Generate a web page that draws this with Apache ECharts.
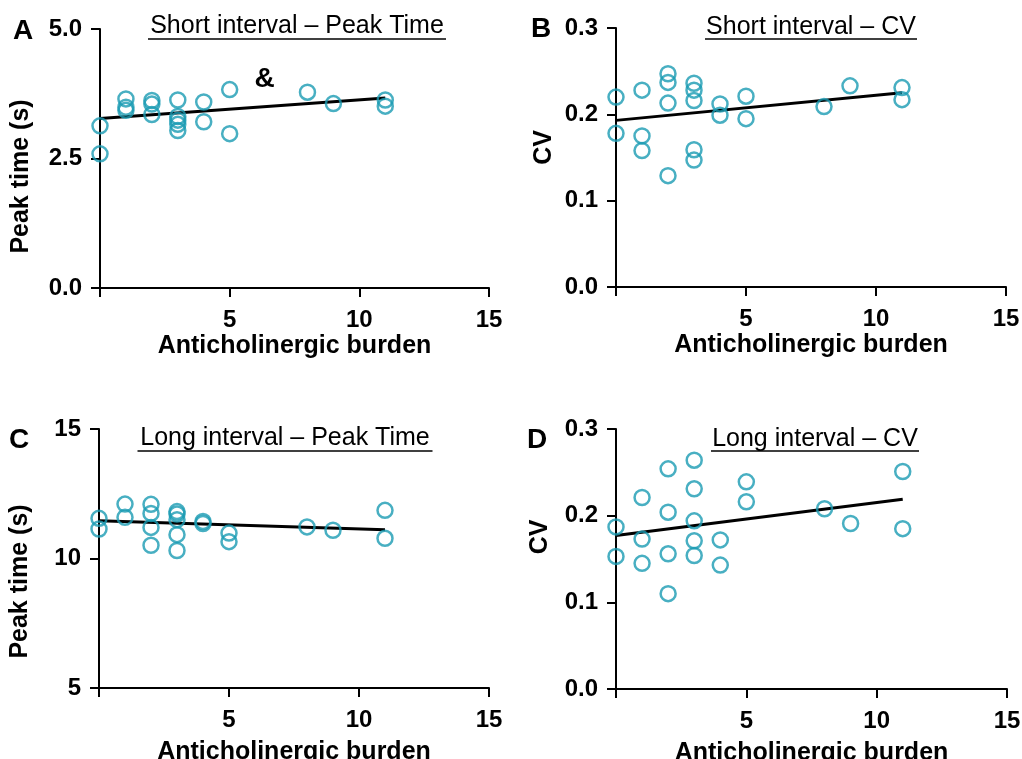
<!DOCTYPE html>
<html>
<head>
<meta charset="utf-8">
<script src="https://cdn.jsdelivr.net/npm/echarts@6/dist/echarts.min.js"></script>
<style>html,body{margin:0;padding:0;background:#fff}#c{width:1022px;height:759px}</style>
</head>
<body>
<div id="c"></div>
<script>
// ---- data (x = anticholinergic burden, y = measured value) ----
const shortPeak = [[0,3.13],[0,2.59],[1,3.65],[1,3.49],[1,3.43],[2,3.62],[2,3.55],[2,3.35],
  [3,3.63],[3,3.31],[3,3.24],[3,3.16],[3,3.04],[4,3.59],[4,3.21],[5,3.83],[5,2.98],[8,3.78],[9,3.56],[11,3.63],[11,3.51]];
const shortPeakFit = [[0,3.27],[11,3.67]];
const shortCV = [[0,0.220],[0,0.178],[1,0.228],[1,0.175],[1,0.158],[2,0.247],[2,0.237],[2,0.213],[2,0.129],
  [3,0.236],[3,0.228],[3,0.216],[3,0.159],[3,0.147],[4,0.212],[4,0.199],[5,0.221],[5,0.195],[8,0.209],[9,0.233],[11,0.231],[11,0.217]];
const shortCVFit = [[0,0.193],[11,0.225]];
const longPeak = [[0,11.55],[0,11.14],[1,12.10],[1,11.59],[2,12.09],[2,11.74],[2,11.20],[2,10.51],
  [3,11.81],[3,11.72],[3,11.50],[3,10.92],[3,10.31],[4,11.43],[4,11.35],[5,10.98],[5,10.65],[8,11.22],[9,11.09],[11,11.86],[11,10.78]];
const longPeakFit = [[0,11.46],[11,11.11]];
const longCV = [[0,0.187],[0,0.153],[1,0.221],[1,0.173],[1,0.145],[2,0.254],[2,0.204],[2,0.156],[2,0.110],
  [3,0.264],[3,0.231],[3,0.194],[3,0.171],[3,0.154],[4,0.172],[4,0.143],[5,0.239],[5,0.216],[8,0.208],[9,0.191],[11,0.251],[11,0.185]];
const longCVFit = [[0,0.177],[11,0.219]];
const annotationA = {coord:[6.35,4.03], text:'&'};

const xTicks = [0,5,10,15];
const yTicksA = [0,2.5,5];
const yTicksB = [0,0.1,0.2,0.3];
const yTicksC = [5,10,15];
const yTicksD = [0,0.1,0.2,0.3];

const titles = ['Short interval \u2013 Peak Time','Short interval \u2013 CV','Long interval \u2013 Peak Time','Long interval \u2013 CV'];
const letters = ['A','B','C','D'];
const xName = 'Anticholinergic burden';
const yNames = ['Peak time (s)','CV','Peak time (s)','CV'];

// ---- styles ----
const TEAL = '#1a9bb3';
const FONT = 'Liberation Sans, Arial, sans-serif';
const grids = [
  {left:100, top:29, width:389, height:259, outerBoundsMode:'none', containLabel:false},
  {left:616, top:28, width:390, height:259, outerBoundsMode:'none', containLabel:false},
  {left:99, top:429, width:390, height:259, outerBoundsMode:'none', containLabel:false},
  {left:616, top:429, width:391, height:260, outerBoundsMode:'none', containLabel:false}
];
const yTickSets = [yTicksA, yTicksB, yTicksC, yTicksD];
const yDecimals = [1,1,0,1];
const yNamePad = [[0,36,0,0],[0,0,0,20],[0,46,0,0],[0,0,0,44]];
const yNameGap = [66,59,66,63];

const axisLineStyle = {color:'#000', width:2};
const xAxes = grids.map((g,i)=>({
  type:'value', gridIndex:i, min:xTicks[0], max:xTicks[xTicks.length-1], interval:xTicks[1]-xTicks[0],
  axisLine:{show:true, onZero:false, lineStyle:axisLineStyle},
  axisTick:{show:true, length:9, lineStyle:axisLineStyle},
  splitLine:{show:false},
  axisLabel:{margin:20, color:'#000', fontFamily:FONT, fontWeight:'bold', fontSize:24,
    formatter:v=> v===0 ? '' : String(v)},
  name:xName, nameLocation:'middle', nameGap: i>=2 ? 52 : 46,
  nameTextStyle:{color:'#000', fontFamily:FONT, fontWeight:'bold', fontSize:25}
}));
const yAxes = grids.map((g,i)=>{
  const t = yTickSets[i];
  return {
    type:'value', gridIndex:i, min:t[0], max:t[t.length-1], interval:t[1]-t[0],
    axisLine:{show:true, onZero:false, lineStyle:axisLineStyle},
    axisTick:{show:true, length:9, lineStyle:axisLineStyle},
    splitLine:{show:false},
    axisLabel:{margin:18, color:'#000', fontFamily:FONT, fontWeight:'bold', fontSize:24,
      formatter:v=> v.toFixed(yDecimals[i])},
    name:yNames[i], nameLocation:'middle', nameGap:yNameGap[i],
    nameTextStyle:{color:'#000', fontFamily:FONT, fontWeight:'bold', fontSize:25, padding:yNamePad[i]}
  };
});

const scatterData = [shortPeak, shortCV, longPeak, longCV];
const fitData = [shortPeakFit, shortCVFit, longPeakFit, longCVFit];
const series = [];
scatterData.forEach((d,i)=>{
  series.push({
    type:'line', xAxisIndex:i, yAxisIndex:i, data:fitData[i], symbol:'none', silent:true,
    lineStyle:{color:'#000', width:3}, z:2
  });
  const s = {
    type:'scatter', xAxisIndex:i, yAxisIndex:i, data:d, symbol:'circle', symbolSize:15,
    itemStyle:{color:'rgba(255,255,255,0)', borderColor:TEAL, borderWidth:2.5}, z:3
  };
  if(i===0){
    s.markPoint = {symbol:'circle', symbolSize:0, silent:true,
      label:{show:true, position:'inside', formatter:annotationA.text, color:'#000', fontFamily:FONT, fontWeight:'bold', fontSize:28},
      data:[{coord:annotationA.coord}]};
  }
  series.push(s);
});

// titles (underlined) and panel letters
const titlePos = [{x:297,y:26,u:39,w:298},{x:811,y:27,u:39,w:212},{x:285,y:438,u:451,w:295},{x:815,y:439,u:451,w:208}];
const letterPos = [{x:23,y:31},{x:541,y:29},{x:19,y:440},{x:537,y:440}];
const graphic = [];
titlePos.forEach((p,i)=>{
  graphic.push({type:'text', x:p.x, y:p.y, style:{text:titles[i], fill:'#000', font:'25px '+FONT, align:'center', verticalAlign:'middle'}});
  graphic.push({type:'line', shape:{x1:p.x-p.w/2, y1:p.u, x2:p.x+p.w/2, y2:p.u}, style:{stroke:'#000', lineWidth:1.5}});
});
letterPos.forEach((p,i)=>{
  graphic.push({type:'text', x:p.x, y:p.y, style:{text:letters[i], fill:'#000', font:'bold 28px '+FONT, align:'center', verticalAlign:'middle'}});
});

const chart = echarts.init(document.getElementById('c'), null, {renderer:'canvas'});
chart.setOption({
  animation:false,
  backgroundColor:'#fff',
  grid:grids,
  xAxis:xAxes,
  yAxis:yAxes,
  series:series,
  graphic:graphic
});
</script>
</body>
</html>
